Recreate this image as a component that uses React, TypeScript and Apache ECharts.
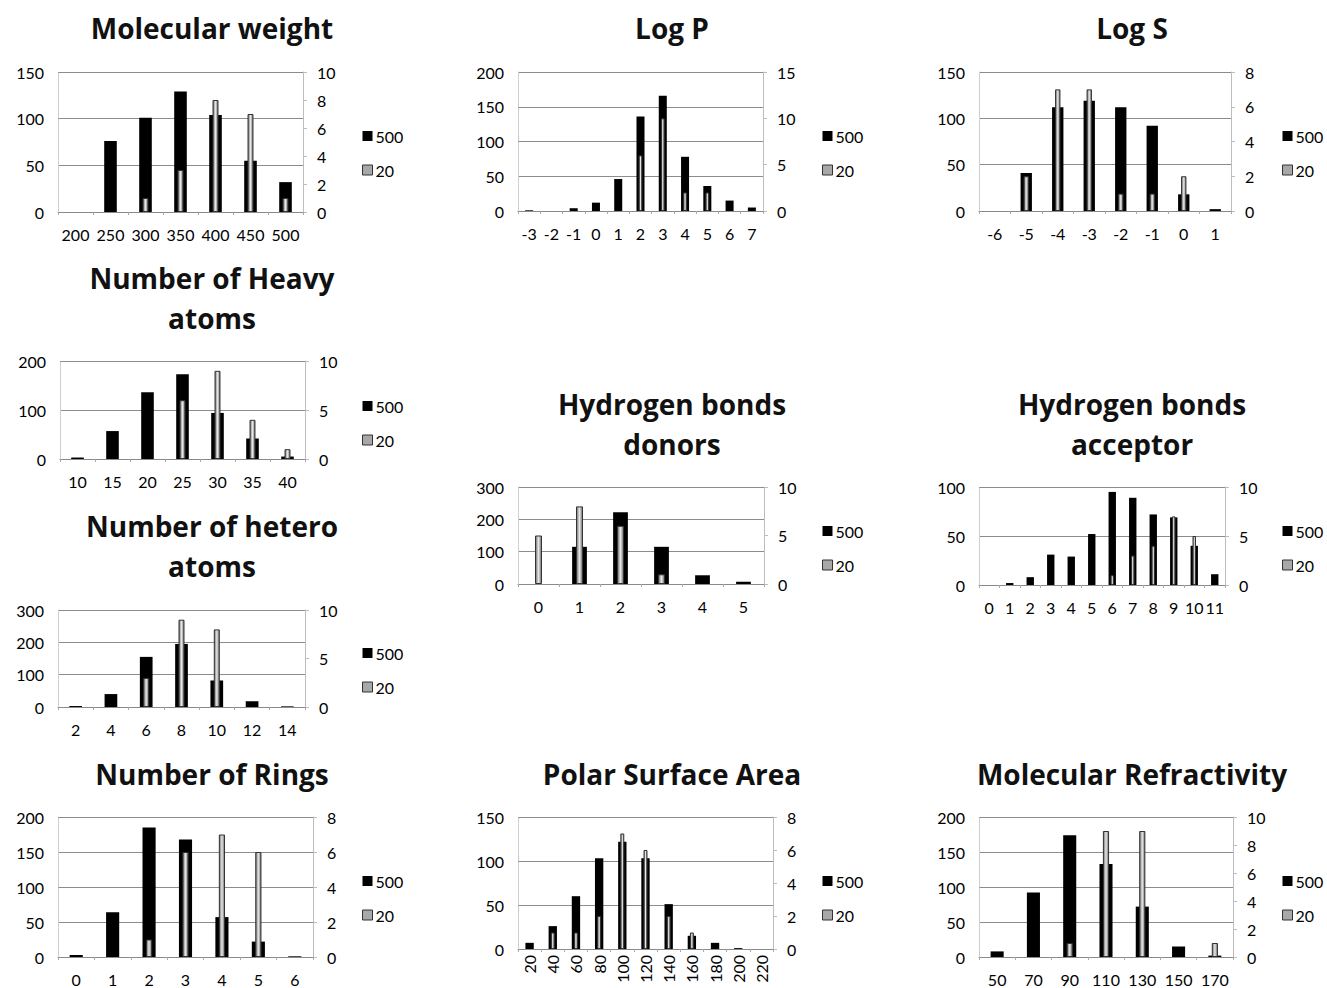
import React, { useEffect, useRef } from "react";
import * as echarts from "echarts";

// ---- data ----
const mwCats = ["200", "250", "300", "350", "400", "450", "500"];
const mw500 = [0, 76, 101, 129, 104, 55, 32];
const mw20 = [0, 0, 1, 3, 8, 7, 1];

const logPCats = ["-3", "-2", "-1", "0", "1", "2", "3", "4", "5", "6", "7"];
const logP500 = [1, 0, 4, 12, 46, 136, 166, 78, 36, 15, 5];
const logP20 = [0, 0, 0, 0, 0, 6, 10, 2, 2, 0, 0];

const logSCats = ["-6", "-5", "-4", "-3", "-2", "-1", "0", "1"];
const logS500 = [0, 41, 112, 119, 112, 92, 18, 2];
const logS20 = [0, 2, 7, 7, 1, 1, 2, 0];

const heavyCats = ["10", "15", "20", "25", "30", "35", "40"];
const heavy500 = [3, 57, 136, 173, 94, 42, 5];
const heavy20 = [0, 0, 0, 6, 9, 4, 1];

const heteroCats = ["2", "4", "6", "8", "10", "12", "14"];
const hetero500 = [3, 40, 155, 195, 82, 18, 2];
const hetero20 = [0, 0, 3, 9, 8, 0, 0];

const donorCats = ["0", "1", "2", "3", "4", "5"];
const donor500 = [0, 115, 222, 115, 27, 7];
const donor20 = [5, 8, 6, 1, 0, 0];

const accCats = ["0", "1", "2", "3", "4", "5", "6", "7", "8", "9", "10", "11"];
const acc500 = [0, 2, 8, 31, 29, 52, 95, 89, 72, 69, 40, 11];
const acc20 = [0, 0, 0, 0, 0, 0, 1, 3, 4, 7, 5, 0];

const ringCats = ["0", "1", "2", "3", "4", "5", "6"];
const ring500 = [3, 64, 185, 168, 57, 22, 1];
const ring20 = [0, 0, 1, 6, 7, 6, 0];

const psaCats = ["20", "40", "60", "80", "100", "120", "140", "160", "180", "200", "220"];
const psa500 = [7, 26, 60, 103, 122, 103, 51, 15, 7, 1, 0];
const psa20 = [0, 1, 1, 2, 7, 6, 2, 1, 0, 0, 0];

const mrCats = ["50", "70", "90", "110", "130", "150", "170"];
const mr500 = [8, 92, 174, 133, 72, 15, 2];
const mr20 = [0, 0, 1, 9, 9, 0, 1];

const seriesNames = ["500", "20"];

// ---- layout ----
const FONT = 'Lato, "Open Sans", "DejaVu Sans", sans-serif';
const TITLE_FONT = '"Open Sans", Lato, "DejaVu Sans", sans-serif';

const panels = [
  { title: "Molecular weight", cats: mwCats, a: mw500, b: mw20, lmax: 150, lint: 50, rmax: 10, rint: 2, g: [58, 72, 245, 140], t: [212, 28], lg: [362, 128], rot: 0 },
  { title: "Log P", cats: logPCats, a: logP500, b: logP20, lmax: 200, lint: 50, rmax: 15, rint: 5, g: [518, 72, 245, 139], t: [672, 28], lg: [822, 128], rot: 0 },
  { title: "Log S", cats: logSCats, a: logS500, b: logS20, lmax: 150, lint: 50, rmax: 8, rint: 2, g: [979, 72, 252, 139], t: [1132, 28], lg: [1282, 128], rot: 0 },
  { title: "Number of Heavy\natoms", cats: heavyCats, a: heavy500, b: heavy20, lmax: 200, lint: 100, rmax: 10, rint: 5, g: [60, 361, 245, 98], t: [212, 298], lg: [362, 398], rot: 0 },
  { title: "Number of hetero\natoms", cats: heteroCats, a: hetero500, b: hetero20, lmax: 300, lint: 100, rmax: 10, rint: 5, g: [58, 610, 247, 97], t: [212, 546], lg: [362, 645], rot: 0 },
  { title: "Hydrogen bonds\ndonors", cats: donorCats, a: donor500, b: donor20, lmax: 300, lint: 100, rmax: 10, rint: 5, g: [518, 487, 246, 97], t: [672, 424], lg: [822, 523], rot: 0 },
  { title: "Hydrogen bonds\nacceptor", cats: accCats, a: acc500, b: acc20, lmax: 100, lint: 50, rmax: 10, rint: 5, g: [979, 487, 246, 98], t: [1132, 424], lg: [1282, 523], rot: 0 },
  { title: "Number of Rings", cats: ringCats, a: ring500, b: ring20, lmax: 200, lint: 50, rmax: 8, rint: 2, g: [58, 817, 255, 140], t: [212, 774], lg: [362, 873], rot: 0 },
  { title: "Polar Surface Area", cats: psaCats, a: psa500, b: psa20, lmax: 150, lint: 50, rmax: 8, rint: 2, g: [518, 817, 255, 132], t: [672, 774], lg: [822, 873], rot: 90 },
  { title: "Molecular Refractivity", cats: mrCats, a: mr500, b: mr20, lmax: 200, lint: 50, rmax: 10, rint: 2, g: [979, 817, 254, 140], t: [1132, 774], lg: [1282, 873], rot: 0 },
];

const greyFill = {
  type: "linear",
  x: 0,
  y: 0,
  x2: 1,
  y2: 0,
  colorStops: [
    { offset: 0, color: "#6a6a6a" },
    { offset: 0.3, color: "#b8b8b8" },
    { offset: 0.5, color: "#e6e6e6" },
    { offset: 0.7, color: "#b8b8b8" },
    { offset: 1, color: "#6a6a6a" },
  ],
};

const noZero = (arr: number[]) => arr.map((v) => (v === 0 ? "-" : v));

function buildOption() {
  const grid: any[] = [];
  const xAxis: any[] = [];
  const yAxis: any[] = [];
  const series: any[] = [];
  const legend: any[] = [];
  const graphic: any[] = [];

  panels.forEach((p, i) => {
    grid.push({ left: p.g[0], top: p.g[1], width: p.g[2], height: p.g[3], containLabel: false });
    xAxis.push({
      type: "category",
      gridIndex: i,
      data: p.cats,
      axisLine: { show: true, lineStyle: { color: "#8a8a8a", width: 1 } },
      axisTick: { show: true, length: 3, interval: 0, lineStyle: { color: "#aaa" } },
      axisLabel: {
        interval: 0,
        rotate: p.rot,
        margin: p.rot ? 6 : 14,
        color: "#000",
        fontSize: 16,
        fontFamily: FONT,
      },
    });
    xAxis.push({ type: "category", gridIndex: i, data: p.cats, show: false });
    yAxis.push({
      type: "value",
      gridIndex: i,
      position: "left",
      min: 0,
      max: p.lmax,
      interval: p.lint,
      axisLine: { show: true, lineStyle: { color: "#c4c4c4", type: "dotted" } },
      axisTick: { show: false },
      splitLine: { show: true, lineStyle: { color: "#8c8c8c", width: 1 } },
      axisLabel: { color: "#000", fontSize: 16, fontFamily: FONT, margin: 14 },
    });
    yAxis.push({
      type: "value",
      gridIndex: i,
      position: "right",
      min: 0,
      max: p.rmax,
      interval: p.rint,
      axisLine: { show: true, lineStyle: { color: "#bdbdbd" } },
      axisTick: { show: true, length: 4, lineStyle: { color: "#bdbdbd" } },
      splitLine: { show: false },
      axisLabel: { color: "#000", fontSize: 16, fontFamily: FONT, margin: 14 },
    });
    series.push({
      name: seriesNames[0],
      type: "bar",
      xAxisIndex: 2 * i,
      yAxisIndex: 2 * i,
      data: noZero(p.a),
      barWidth: "36%",
      itemStyle: { color: "#000" },
      z: 2,
    });
    series.push({
      name: seriesNames[1],
      type: "bar",
      xAxisIndex: 2 * i + 1,
      yAxisIndex: 2 * i + 1,
      data: noZero(p.b),
      barWidth: "17%",
      itemStyle: { color: greyFill, borderColor: "#333", borderWidth: 1 },
      z: 3,
    });
    legend.push({
      left: p.lg[0],
      top: p.lg[1],
      padding: 0,
      orient: "vertical",
      itemGap: 18,
      itemWidth: 10,
      itemHeight: 10,
      icon: "rect",
      selectedMode: false,
      textStyle: { color: "#000", fontSize: 16, fontFamily: FONT, padding: [0, 0, 0, -2] },
      data: [
        { name: seriesNames[0], itemStyle: { color: "#000" } },
        { name: seriesNames[1], itemStyle: { color: "#a8a8a8", borderColor: "#333", borderWidth: 1 } },
      ],
    });
    graphic.push({
      type: "text",
      x: p.t[0],
      y: p.t[1],
      style: {
        text: p.title,
        x: 0,
        y: 0,
        align: "center",
        verticalAlign: "middle",
        fontSize: 28,
        fontWeight: "bold",
        fontFamily: TITLE_FONT,
        lineHeight: 40,
        fill: "#111",
      },
    });
  });

  return {
    animation: false,
    backgroundColor: "#fff",
    grid,
    xAxis,
    yAxis,
    series,
    legend,
    graphic,
  };
}

export default function App() {
  const ref = useRef<HTMLDivElement>(null);
  useEffect(() => {
    if (!ref.current) return;
    const chart = echarts.init(ref.current, undefined, { renderer: "svg" });
    chart.setOption(buildOption() as any);
    return () => chart.dispose();
  }, []);
  return (
    <div
      ref={ref}
      style={{ position: "absolute", left: 0, top: 0, width: 1327, height: 988, background: "#fff" }}
    />
  );
}
